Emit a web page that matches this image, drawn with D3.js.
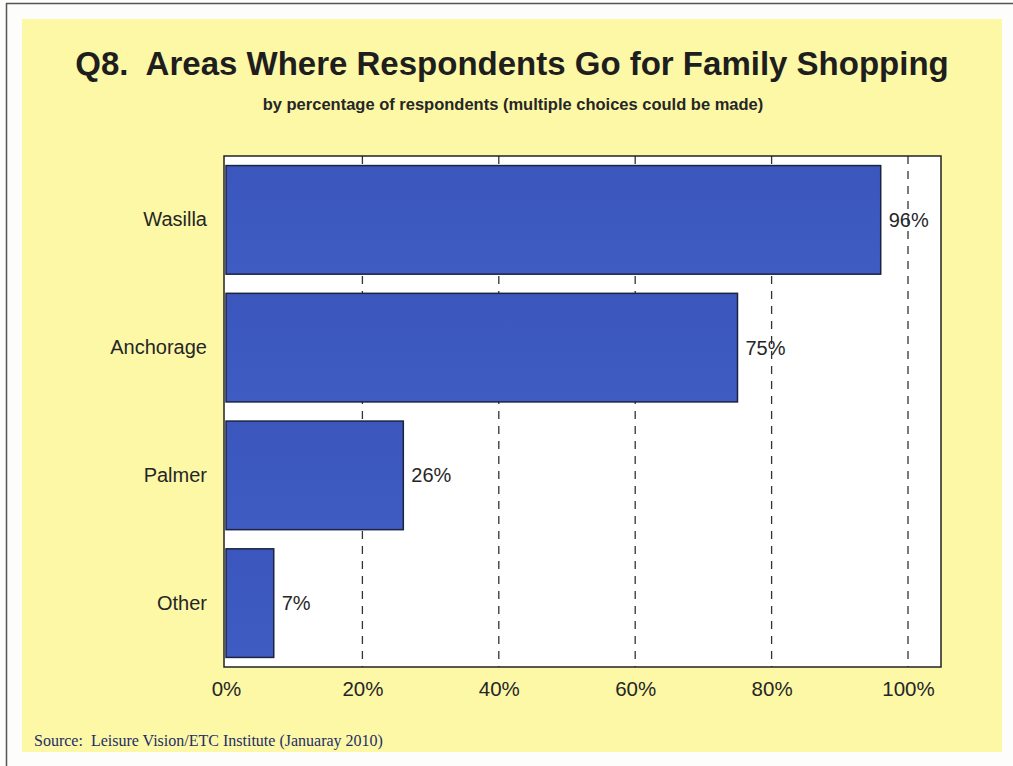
<!DOCTYPE html>
<html lang="en">
<head>
<meta charset="utf-8">
<title>Q8 Family Shopping</title>
<script src="https://cdnjs.cloudflare.com/ajax/libs/d3/7.8.5/d3.min.js"></script>
<style>
  body { margin: 0; background: #fdfdfb; }
  text { font-family: Arial, "Liberation Sans", sans-serif; fill: #262626; }
</style>
</head>
<body>
<script>
// chart data
var categories = ["Wasilla", "Anchorage", "Palmer", "Other"];
var values = [96, 75, 26, 7];
var tickValues = [0, 20, 40, 60, 80, 100];

var W = 1013, H = 766;
var plot = {left: 224, top: 156, right: 941, bottom: 667};

var svg = d3.select("body").append("svg")
    .attr("width", W)
    .attr("height", H);

// outer frame lines
svg.append("line").attr("x1", 6).attr("x2", W).attr("y1", 3.5).attr("y2", 3.5)
    .attr("stroke", "#555").attr("stroke-width", 1.5);
svg.append("line").attr("x1", 6.5).attr("x2", 6.5).attr("y1", 3).attr("y2", H)
    .attr("stroke", "#555").attr("stroke-width", 1.5);

// yellow panel
svg.append("rect")
    .attr("x", 22).attr("y", 19)
    .attr("width", 980).attr("height", 733)
    .attr("fill", "#fcf8a6");

// titles
svg.append("text")
    .attr("x", 512).attr("y", 75)
    .attr("text-anchor", "middle")
    .style("font-size", "33px").style("font-weight", "bold")
    .style("fill", "#1e1e1e")
    .attr("xml:space", "preserve")
    .text("Q8.  Areas Where Respondents Go for Family Shopping");

svg.append("text")
    .attr("x", 513).attr("y", 110)
    .attr("text-anchor", "middle")
    .style("font-size", "16.5px").style("font-weight", "bold")
    .text("by percentage of respondents (multiple choices could be made)");

// scales
var x = d3.scaleLinear().domain([0, 100]).range([226, 908]);
var y = d3.scaleBand().domain(categories)
    .range([plot.top, plot.bottom])
    .paddingInner(0.15).paddingOuter(0.075);

// plot background
svg.append("rect")
    .attr("x", plot.left).attr("y", plot.top)
    .attr("width", plot.right - plot.left).attr("height", plot.bottom - plot.top)
    .attr("fill", "#ffffff");

// dashed gridlines
svg.append("g").selectAll("line")
    .data(tickValues.slice(1))
    .join("line")
    .attr("x1", d => x(d)).attr("x2", d => x(d))
    .attr("y1", plot.top).attr("y2", plot.bottom)
    .attr("stroke", "#333").attr("stroke-width", 1.3)
    .attr("stroke-dasharray", "8,7");

// bars
var grad = svg.append("defs").append("linearGradient")
    .attr("id", "barFill").attr("x1", 0).attr("x2", 0).attr("y1", 0).attr("y2", 1);
grad.append("stop").attr("offset", "0%").attr("stop-color", "#3b57bd");
grad.append("stop").attr("offset", "100%").attr("stop-color", "#3e5cc2");

svg.append("g").selectAll("rect")
    .data(values)
    .join("rect")
    .attr("x", x(0))
    .attr("y", (d, i) => y(categories[i]))
    .attr("width", d => x(d) - x(0))
    .attr("height", y.bandwidth())
    .attr("fill", "url(#barFill)")
    .attr("stroke", "#1c2340").attr("stroke-width", 1.5);

// value labels
svg.append("g").selectAll("text")
    .data(values)
    .join("text")
    .attr("x", d => x(d) + 8)
    .attr("y", (d, i) => y(categories[i]) + y.bandwidth() / 2)
    .attr("dy", "0.35em")
    .style("font-size", "20px")
    .text(d => d + "%");

// plot border
svg.append("rect")
    .attr("x", plot.left).attr("y", plot.top)
    .attr("width", plot.right - plot.left).attr("height", plot.bottom - plot.top)
    .attr("fill", "none")
    .attr("stroke", "#222").attr("stroke-width", 1.5);

// category axis
var yAxis = svg.append("g")
    .attr("transform", "translate(" + plot.left + ",0)")
    .call(d3.axisLeft(y).tickSize(0).tickPadding(17));
yAxis.select(".domain").remove();
yAxis.selectAll("text")
    .style("font-size", "20px")
    .style("fill", "#262626")
    .style("font-family", "Arial, 'Liberation Sans', sans-serif");

// value axis
var xAxis = svg.append("g")
    .attr("transform", "translate(0," + plot.bottom + ")")
    .call(d3.axisBottom(x).tickValues(tickValues).tickSize(0).tickPadding(14)
        .tickFormat(d => d + "%"));
xAxis.select(".domain").remove();
xAxis.selectAll("text")
    .style("font-size", "20.5px")
    .style("fill", "#262626")
    .style("font-family", "Arial, 'Liberation Sans', sans-serif");

// source note
svg.append("text")
    .attr("x", 34).attr("y", 746)
    .attr("xml:space", "preserve")
    .style("font-family", "'Liberation Serif', 'Times New Roman', serif")
    .style("font-size", "16px")
    .style("fill", "#1f2d66")
    .text("Source:  Leisure Vision/ETC Institute (Januaray 2010)");
</script>
</body>
</html>
